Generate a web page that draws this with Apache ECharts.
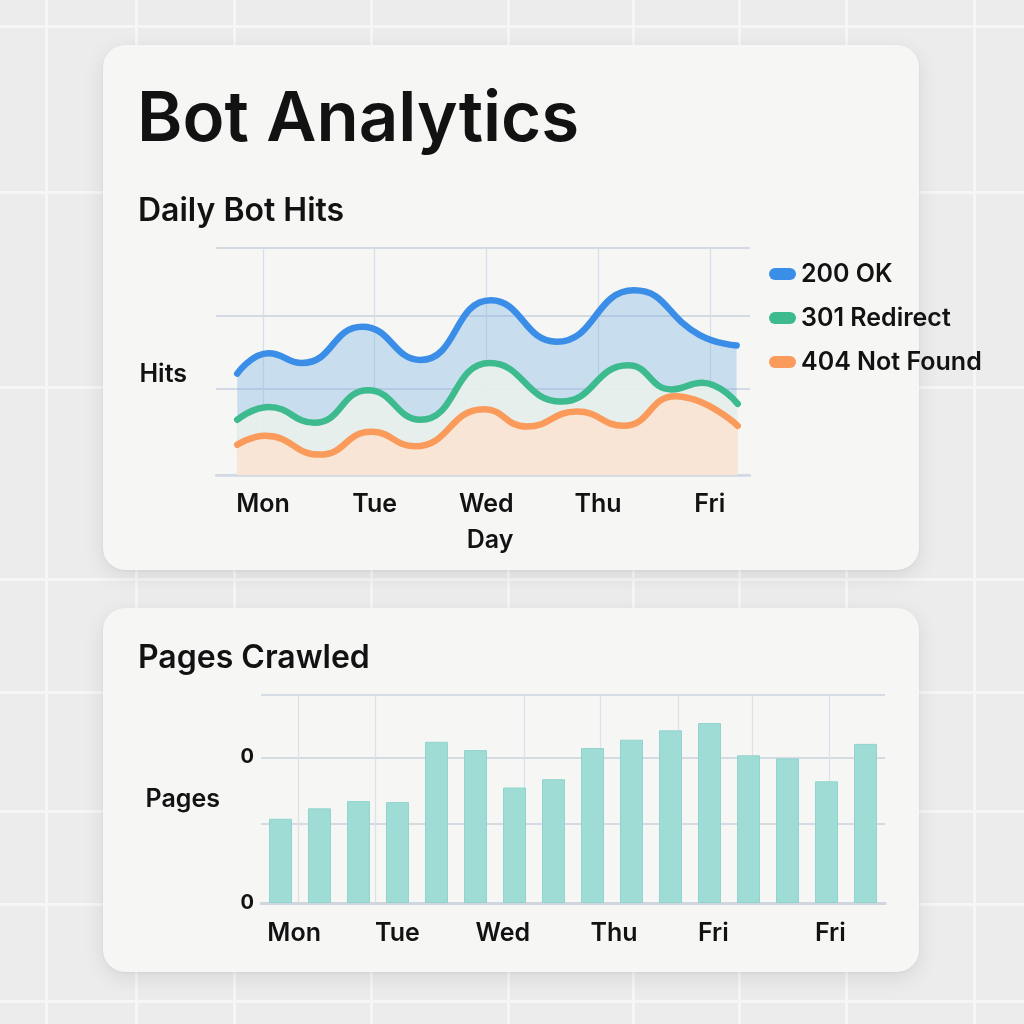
<!DOCTYPE html>
<html>
<head>
<meta charset="utf-8">
<script src="https://cdn.jsdelivr.net/npm/echarts@6/dist/echarts.min.js"></script>
<style>
  html, body { margin: 0; padding: 0; width: 1024px; height: 1024px; overflow: hidden; background: #ececec; }
  .bgline { position: absolute; background: #f6f6f6; box-shadow: 0 0 1px rgba(0,0,0,0.06); }
  .card { position: absolute; left: 103px; width: 816px; background: #f6f6f5; border-radius: 22px;
          box-shadow: 0 6px 22px rgba(0,0,0,0.09), 0 1px 3px rgba(0,0,0,0.05); }
  #chart { position: absolute; left: 0; top: 0; width: 1024px; height: 1024px; }
</style>
</head>
<body>
<div id="bg"></div>
<div class="card" style="top:45px;height:525px"></div>
<div class="card" style="top:608px;height:364px"></div>
<div id="chart"></div>
<script>
// ---------- data ----------
const days = ['Mon', 'Tue', 'Wed', 'Thu', 'Fri'];
const dayTicks = [0, 1, 2, 3, 4];

// Daily Bot Hits (x in days, Mon = 0)
const okDay     = [-0.23, 0.05, 0.35, 0.89, 1.41, 2.04, 2.63, 3.32, 3.91, 4.24];
const okHits    = [134, 161, 148, 196, 152, 231, 176, 244, 185, 171];
const redirDay  = [-0.23, 0.05, 0.46, 0.94, 1.41, 2.03, 2.67, 3.27, 3.66, 3.93, 4.25];
const redirHits = [73, 90, 69, 112, 73, 148, 97, 145, 113, 122, 94];
const nfDay     = [-0.23, 0.02, 0.51, 0.97, 1.36, 1.98, 2.36, 2.81, 3.23, 3.69, 4.25];
const nfHits    = [40, 52, 27, 57, 38, 87, 64, 84, 65, 104, 65];
const hitsGridValues = [0, 114, 211, 300];

// Pages Crawled
const pageSlots  = [1, 2, 3, 4, 5, 6, 7, 8, 9, 10, 11, 12, 13, 14, 15, 16];
const pagesValues = [810, 910, 980, 970, 1550, 1470, 1110, 1190, 1490, 1570, 1660, 1730, 1420, 1390, 1170, 1530];
const pageDayLabels = ['Mon', 'Tue', 'Wed', 'Thu', 'Fri', 'Fri'];
const pageDayLabelPos = [1.35, 4.0, 6.7, 9.55, 12.1, 15.1];
const pageVGrid = [1.45, 3.42, 7.24, 9.19, 11.19, 13.1, 15.06];
const pagesGridValues = [0, 760, 1400, 2000];
const pagesTickValues = [0, 1400];
const pagesTickLabels = ['0', '0'];

// ---------- background tiles ----------
const bg = document.getElementById('bg');
[27, 193, 388, 580, 693, 812, 905, 1002].forEach(function (y) {
  const d = document.createElement('div'); d.className = 'bgline';
  d.style.cssText = 'left:0;width:1024px;top:' + (y - 2) + 'px;height:3px'; bg.appendChild(d);
});
[47, 137, 235, 372, 509, 634, 740, 847, 975].forEach(function (x) {
  const d = document.createElement('div'); d.className = 'bgline';
  d.style.cssText = 'top:0;height:1024px;left:' + (x - 2) + 'px;width:3px'; bg.appendChild(d);
});

// ---------- chart ----------
const FONT = 'Inter, "Noto Sans", sans-serif';
const INK = '#121212';
const zip = (xs, ys) => xs.map((x, i) => [x, ys[i]]);
const pill = 'path://M6,0 L21,0 A6,6 0 0 1 21,12 L6,12 A6,6 0 0 1 6,0 Z';
const LBL = { fontFamily: FONT, fontSize: 25, fontWeight: 600, color: INK };

const chart = echarts.init(document.getElementById('chart'), null, { renderer: 'canvas' });
chart.setOption({
  backgroundColor: 'transparent',
  animation: false,
  textStyle: { fontFamily: FONT },
  title: [
    { text: 'Bot Analytics', left: 132, top: 81,
      textStyle: { fontFamily: FONT, fontSize: 69, fontWeight: 600, color: INK, lineHeight: 69 } },
    { text: 'Daily Bot Hits', left: 133, top: 190,
      textStyle: { fontFamily: FONT, fontSize: 32, fontWeight: 600, color: INK, lineHeight: 32 } },
    { text: 'Pages Crawled', left: 133, top: 637,
      textStyle: { fontFamily: FONT, fontSize: 32, fontWeight: 600, color: INK, lineHeight: 32 } }
  ],
  legend: {
    orient: 'vertical', left: 769, top: 259, padding: 0, itemGap: 14,
    itemWidth: 27, itemHeight: 12, icon: pill,
    textStyle: Object.assign({}, LBL, { lineHeight: 30 }),
    data: ['200 OK', '301 Redirect', '404 Not Found']
  },
  grid: [
    { left: 216, top: 248, width: 534, height: 227 },
    { left: 261, top: 695, width: 624, height: 208 }
  ],
  xAxis: [
    { type: 'value', gridIndex: 0, min: -0.42, max: 4.36,
      name: 'Day', nameLocation: 'middle', nameGap: 53,
      nameTextStyle: Object.assign({}, LBL, { padding: [0, 0, 0, 14] }),
      axisLine: { show: true, lineStyle: { color: '#d2d9e2', width: 2.5 } },
      axisTick: { show: false, customValues: dayTicks },
      axisLabel: Object.assign({ customValues: dayTicks, margin: 17, lineHeight: 25,
                   formatter: v => days[Math.round(v)] }, LBL),
      splitLine: { show: true, lineStyle: { color: '#d8dee7', width: 1.2 } } },
    { type: 'value', gridIndex: 1, min: 0.5, max: 16.5,
      axisLine: { show: true, lineStyle: { color: '#d0d6de', width: 3 } },
      axisTick: { show: false, customValues: pageVGrid },
      axisLabel: Object.assign({ customValues: pageDayLabelPos, margin: 18, lineHeight: 25,
                   formatter: v => pageDayLabels[pageDayLabelPos.indexOf(v)] }, LBL),
      splitLine: { show: true, lineStyle: { color: '#dde2e8', width: 1.2 } } }
  ],
  yAxis: [
    { type: 'value', gridIndex: 0, min: 0, max: 300,
      name: 'Hits', nameLocation: 'middle', nameRotate: 0, nameGap: 29,
      nameTextStyle: Object.assign({}, LBL, { verticalAlign: 'top' }),
      axisLine: { show: false }, axisLabel: { show: false },
      axisTick: { show: false, customValues: hitsGridValues },
      splitLine: { show: true, lineStyle: { color: '#d3dae3', width: 2 } } },
    { type: 'value', gridIndex: 1, min: 0, max: 2000,
      name: 'Pages', nameLocation: 'middle', nameRotate: 0, nameGap: 41,
      nameTextStyle: Object.assign({}, LBL, { verticalAlign: 'middle', padding: [0, 0, 10, 0] }),
      axisLine: { show: false },
      axisTick: { show: false, customValues: pagesGridValues },
      axisLabel: { customValues: pagesTickValues, margin: 7, fontFamily: FONT, fontSize: 20, fontWeight: 700, color: INK,
                   formatter: v => pagesTickLabels[pagesTickValues.indexOf(v)] },
      splitLine: { show: true, lineStyle: { color: '#d5dbe3', width: 2 } } }
  ],
  series: [
    { name: '200 OK', type: 'line', xAxisIndex: 0, yAxisIndex: 0, smooth: 0.5, showSymbol: false,
      data: zip(okDay, okHits), color: '#3a8ee8',
      lineStyle: { width: 6.5, color: '#3a8ee8', cap: 'round' },
      areaStyle: { color: 'rgba(120,178,228,0.36)', opacity: 1 } },
    { name: '301 Redirect', type: 'line', xAxisIndex: 0, yAxisIndex: 0, smooth: 0.5, showSymbol: false,
      data: zip(redirDay, redirHits), color: '#3dbb8e',
      lineStyle: { width: 6.5, color: '#3dbb8e', cap: 'round' },
      areaStyle: { color: 'rgba(232,240,234,0.92)', opacity: 1 } },
    { name: '404 Not Found', type: 'line', xAxisIndex: 0, yAxisIndex: 0, smooth: 0.5, showSymbol: false,
      data: zip(nfDay, nfHits), color: '#fa9a5b',
      lineStyle: { width: 6.5, color: '#fa9a5b', cap: 'round' },
      areaStyle: { color: 'rgba(251,228,211,0.92)', opacity: 1 } },
    { name: 'Pages', type: 'bar', xAxisIndex: 1, yAxisIndex: 1, barWidth: 23,
      data: zip(pageSlots, pagesValues),
      itemStyle: { color: '#a0dcd6', borderColor: '#8fd4cd', borderWidth: 1 } }
  ]
});
</script>
</body>
</html>
